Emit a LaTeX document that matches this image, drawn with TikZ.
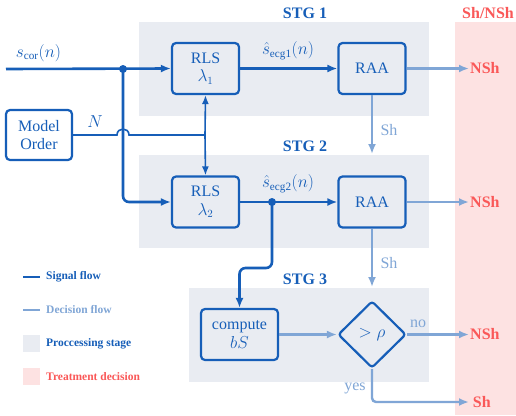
\documentclass[tikz,border=0pt]{standalone}
\usepackage{fontspec}
\setmainfont{Liberation Serif}
\usetikzlibrary{arrows.meta,shapes.geometric}
\definecolor{dblue}{RGB}{22,94,184}
\definecolor{lblue}{RGB}{128,166,214}
\definecolor{stagebg}{RGB}{233,236,242}
\definecolor{pinkbg}{RGB}{253,226,226}
\definecolor{redtxt}{RGB}{250,88,88}
\begin{document}
\begin{tikzpicture}[x=1pt,y=-1pt,
  font=\fontsize{16}{18.5}\selectfont,
  blk/.style={draw=dblue, line width=2.2pt, rounded corners=4pt, fill=stagebg,
    minimum width=67pt, minimum height=51pt, align=center, text=dblue, inner sep=0pt},
  sig/.style={draw=dblue, line width=2.6pt, -{Latex[length=10pt,width=8pt]}},
  nline/.style={draw=dblue, line width=1.6pt},
  narrow/.style={nline, -{Latex[length=9pt,width=7pt]}},
  dec/.style={draw=lblue, line width=2.4pt, -{Latex[length=10pt,width=8pt]}},
  dot/.style={circle, fill=dblue, inner sep=0pt, minimum size=8pt},
  stg/.style={text=dblue, font=\fontsize{16}{18}\selectfont\bfseries},
  res/.style={text=redtxt, font=\fontsize{16}{18}\selectfont\bfseries, inner sep=1pt, anchor=west},
  lbl/.style={text=lblue},
  leg/.style={anchor=west, font=\fontsize{11.5}{13}\selectfont\bfseries, inner sep=0pt}
]
\fill[white] (0,0) rectangle (516,415);
\useasboundingbox (0,0) rectangle (516,415);
% backgrounds
\fill[stagebg] (139,22) rectangle (429,116);
\fill[stagebg] (139,155) rectangle (429,248);
\fill[stagebg] (189,288) rectangle (429,382);
\fill[pinkbg] (455,22) rectangle (516,415);
\node[stg] (t1) at (305,13) {STG 1};
\node[stg] (t2) at (305,146) {STG 2};
\node[stg] (t3) at (305,279) {STG 3};
\node[text=redtxt, font=\fontsize{16}{18}\selectfont\bfseries] (tr) at (488,13) {Sh/NSh};
% blocks
\node[blk] (rls1) at (205.5,68.5) {RLS\\$\lambda_1$};
\node[blk] (rls2) at (205.5,202) {RLS\\$\lambda_2$};
\node[blk] (raa1) at (372,68.5) {RAA};
\node[blk] (raa2) at (372,202) {RAA};
\node[blk, fill=white, minimum width=66pt, minimum height=50pt] (mo) at (39,135) {Model\\Order};
\node[blk, minimum width=77pt] (cmp) at (239.5,334.5) {compute\\$bS$};
\node[diamond, draw=dblue, line width=2.2pt, fill=stagebg, minimum width=68pt, minimum height=67pt,
  inner sep=0pt, rounded corners=3pt, text=dblue] (dd) at (372,334.5) {$>\rho$};
% results
\node[res] (n1) at (469,68.5) {NSh};
\node[res] (n2) at (469,202) {NSh};
\node[res] (n3) at (469,334.5) {NSh};
\node[res] (s3) at (469,402) {\,Sh};
% signal flow
\coordinate (in) at (6,69);
\node[dot] (d1) at (123,69) {};
\draw[sig] (in) -- (rls1.west);
\draw[sig, rounded corners=6pt] (d1.center) |- (rls2.west);
\node[text=dblue] (lsc) at (38.5,53) {$s_{\mathrm{cor}}(n)$};
\coordinate (j) at (205,135);
\coordinate (h1) at (117,135);
\coordinate (h2) at (129,135);
\draw[nline] (mo.east) -- (h1) .. controls (117,127) and (129,127) .. (h2) -- (j);
\node[text=dblue] (lN) at (95,122) {$N$};
\draw[narrow] (j) -- (rls1.south);
\draw[narrow] (j) -- (rls2.north);
\draw[sig] (rls1) -- (raa1);
\node[text=dblue] (le1) at (288,51) {$\hat{s}_{\mathrm{ecg1}}(n)$};
\draw[sig] (rls2) -- (raa2);
\node[text=dblue] (le2) at (288,184) {$\hat{s}_{\mathrm{ecg2}}(n)$};
\node[dot] (d2) at (272,202) {};
\coordinate (c2) at (272,268);
\draw[sig, rounded corners=6pt] (d2.center) -- (c2) -| (cmp.north);
% decision flow
\draw[dec] (raa1) -- (n1.west);
\draw[dec] (raa2) -- (n2.west);
\coordinate (a1) at (372,154);
\coordinate (a2) at (372,287);
\draw[dec] (raa1) -- (a1);
\draw[dec] (raa2) -- (a2);
\node[lbl] (sh1) at (389,130) {Sh};
\node[lbl] (sh2) at (389,263) {Sh};
\draw[dec] (cmp) -- (dd);
\draw[dec] (dd) -- (n3.west);
\node[lbl] (no) at (418,324) {no};
\coordinate (c3) at (372,402);
\draw[dec, rounded corners=4pt] (dd.south) -- (c3) -- (s3.west);
\node[lbl] (yes) at (355,388) {yes};
% legend
\coordinate (l1a) at (23,277); \coordinate (l1b) at (40,277);
\coordinate (l2a) at (23,310); \coordinate (l2b) at (40,310);
\draw[dblue, line width=2.6pt] (l1a) -- (l1b);
\draw[lblue, line width=2.4pt] (l2a) -- (l2b);
\fill[stagebg] (23,335) rectangle (40,352);
\fill[pinkbg] (23,368) rectangle (40,385);
\node[leg, text=dblue] (g1) at (46,277) {Signal flow};
\node[leg, text=lblue] (g2) at (46,310) {Decision flow};
\node[leg, text=dblue] (g3) at (46,343.5) {Proccessing stage};
\node[leg, text=redtxt] (g4) at (46,376.5) {Treatment decision};
\end{tikzpicture}
\end{document}
